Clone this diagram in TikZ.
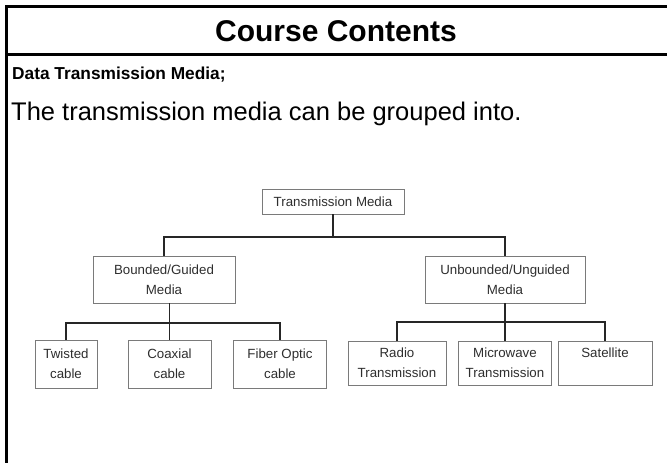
\documentclass[tikz,border=0pt]{standalone}
\usepackage{fontspec}
\setmainfont{Liberation Sans}
\usetikzlibrary{positioning}
\definecolor{boxgray}{HTML}{7A7A7A}
\definecolor{textgray}{HTML}{2E2E2E}

\begin{document}
\begin{tikzpicture}[x=1pt,y=-1pt,node distance=78pt,
    media node/.style={draw=boxgray,line width=0.8pt,text=textgray,align=center,
      font=\fontsize{13.3}{20}\selectfont,inner sep=1pt},
    left leaf/.style={media node,node distance=84.5pt,minimum height=48pt},
    right leaf/.style={media node,node distance=83.5pt,minimum height=44pt},
    bus/.style={line width=1.4pt,draw=black!85}]

  \useasboundingbox (0,0) rectangle (667,463);

  % Slide frame
  \draw[line width=3pt] (6.5,463) -- (6.5,6) -- (667,6);
  \draw[line width=3pt] (5,54.5) -- (667,54.5);

  % Slide text
  \node[font=\fontsize{30}{36}\selectfont\bfseries] (title) at (336,31) {Course Contents};
  \node[anchor=west,inner sep=0pt,font=\fontsize{17.3}{22}\selectfont\bfseries] (head) at (12,75) {Data Transmission Media;};
  \node[anchor=west,inner sep=0pt,font=\fontsize{25.5}{30}\selectfont] (intro) at (11,114) {The transmission media can be grouped into.};

  % Define vertices
  \node[media node,minimum width=142pt,minimum height=25pt] (tm) at (333,201.5) {Transmission Media};
  \node[media node,minimum width=142pt,minimum height=47pt] (bg) [below of=tm,xshift=-169pt] {Bounded/Guided\\Media};
  \node[media node,minimum width=160pt,minimum height=47pt] (uu) [below of=tm,xshift=172pt] {Unbounded/Unguided\\Media};

  \node[left leaf,minimum width=62pt] (tw) [below of=bg,xshift=-98pt] {Twisted\\cable};
  \node[left leaf,minimum width=83pt] (co) [below of=bg,xshift=5.5pt] {Coaxial\\cable};
  \node[left leaf,minimum width=93pt] (fo) [below of=bg,xshift=116pt] {Fiber Optic\\cable};

  \node[right leaf,minimum width=98pt] (ra) [below of=uu,xshift=-108pt] {Radio\\Transmission};
  \node[right leaf,minimum width=93pt] (mw) [below of=uu] {Microwave\\Transmission};
  \node[right leaf,minimum width=94pt] (sa) [below of=uu,xshift=100pt] {Satellite\\\mbox{}};

  % Draw edges
  \coordinate (lb) at (co |- 0,323);
  \draw[bus] (tm) -- (tm |- 0,237);
  \draw[bus] (bg.north) |- (tm |- 0,237) -| (uu.north);
  \draw[bus] (tw.north) |- (lb) -| (fo.north);
  \draw[bus] (bg.south -| co) -- (co);
  \draw[bus] (ra.north) |- (uu |- 0,322) -| (sa.north);
  \draw[bus] (uu) -- (mw);

\end{tikzpicture}
\end{document}
